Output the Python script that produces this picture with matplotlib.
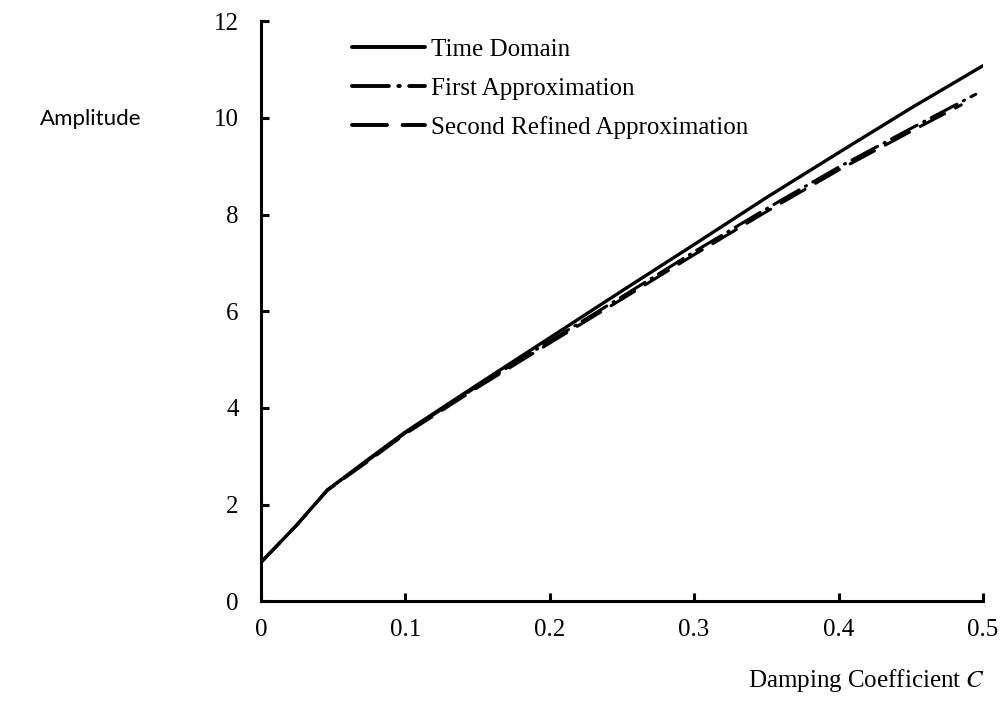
import matplotlib
matplotlib.use("Agg")
import matplotlib.pyplot as plt

# ========== DATA ==========
c_vals = [0, 0.025, 0.046, 0.075, 0.1, 0.15, 0.2, 0.25, 0.3, 0.35, 0.4, 0.45, 0.5]
time_domain = [0.8, 1.58, 2.3, 2.95, 3.5, 4.48, 5.45, 6.42, 7.38, 8.35, 9.28, 10.2, 11.08]

c_first = [0, 0.025, 0.046, 0.075, 0.1, 0.15, 0.2, 0.25, 0.3, 0.35, 0.4, 0.45, 0.495]
first_approx = [0.8, 1.58, 2.3, 2.93, 3.48, 4.45, 5.38, 6.3, 7.23, 8.12, 8.98, 9.78, 10.49]

c_second = [0, 0.025, 0.046, 0.075, 0.1, 0.15, 0.2, 0.25, 0.3, 0.35, 0.4, 0.45, 0.485]
second_approx = [0.8, 1.58, 2.29, 2.91, 3.46, 4.42, 5.34, 6.25, 7.17, 8.06, 8.92, 9.72, 10.27]

x_ticks = [0, 0.1, 0.2, 0.3, 0.4, 0.5]
x_tick_labels = ["0", "0.1", "0.2", "0.3", "0.4", "0.5"]
y_ticks = [0, 2, 4, 6, 8, 10, 12]

SERIF = "Liberation Serif"
FS = 18

# ========== FIGURE ==========
fig = plt.figure(figsize=(10.03, 7.09), dpi=100)
ax = fig.add_axes([0.260, 0.152, 0.720, 0.818])

ax.plot(c_vals, time_domain, color="black", lw=2.4, solid_capstyle="round",
        label="Time Domain")
ax.plot(c_first, first_approx, color="black", lw=2.2,
        linestyle=(0, (9.5, 2.4, 0.4, 2.4)), dash_capstyle="round",
        label="First Approximation")
ax.plot(c_second, second_approx, color="black", lw=2.2,
        linestyle=(0, (9, 4)), dash_capstyle="round",
        label="Second Refined Approximation")

ax.set_xlim(0, 0.5)
ax.set_ylim(0, 12)
ax.set_xticks(x_ticks)
ax.set_xticklabels(x_tick_labels)
ax.set_yticks(y_ticks)

for side in ["top", "right"]:
    ax.spines[side].set_visible(False)
for side in ["left", "bottom"]:
    ax.spines[side].set_linewidth(2.2)

ax.tick_params(direction="in", length=6, width=2.2, labelsize=FS)
ax.tick_params(axis="x", pad=13)
ax.tick_params(axis="y", pad=16)
for lbl in ax.get_xticklabels() + ax.get_yticklabels():
    lbl.set_fontfamily(SERIF)

leg = ax.legend(loc="upper left", bbox_to_anchor=(0.127, 0.970), frameon=False,
                prop={"family": SERIF, "size": FS}, handlelength=2.9,
                handletextpad=0.25, labelspacing=0.65, borderpad=0, borderaxespad=0)
for line in leg.get_lines():
    line.set_linewidth(2.8)

fig.text(0.040, 0.832, "Amplitude", family="Lato", fontsize=16, va="center", ha="left")
fig.text(0.982, 0.040, r"Damping Coefficient $\mathit{C}$", family=SERIF,
         fontsize=FS, ha="right", va="center", math_fontfamily="stix")

fig.savefig("out.png", dpi=100)
